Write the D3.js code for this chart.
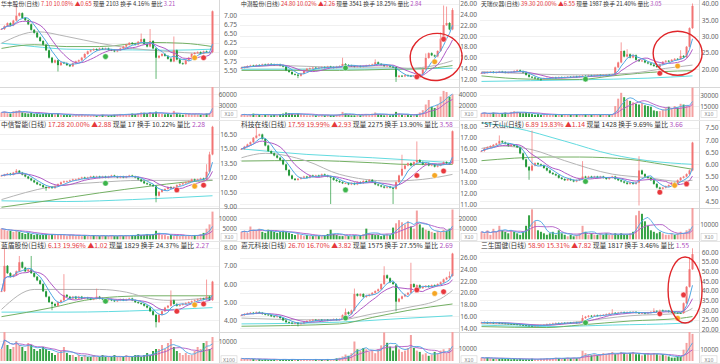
<!DOCTYPE html>
<html>
<head>
<meta charset="utf-8">
<script src="https://cdn.jsdelivr.net/npm/d3@7"></script>
<style>
body { margin: 0; background: #fff; }
svg { display: block; font-family: "Noto Sans CJK SC", "Noto Sans", sans-serif; }
</style>
</head>
<body>
<svg id="chart" width="720" height="364"></svg>
<script>
// Nine daily K-line charts, 72 sessions each.
// close prices (open = previous close), sparse highs/lows for long wicks
var close1 = [6.62,6.70,6.78,6.72,6.85,6.98,7.05,6.92,6.86,6.75,6.60,6.52,6.40,6.30,6.20,6.05,5.85,5.72,5.78,5.65,5.72,5.70,5.65,5.62,5.70,5.75,5.78,5.85,5.95,6.02,6.05,6.08,6.06,6.10,6.08,6.10,6.06,6.05,6.02,6.05,6.10,6.15,6.20,6.25,6.22,6.20,6.28,6.35,6.22,6.15,6.30,6.10,5.85,5.90,5.95,5.90,5.82,5.75,6.05,5.80,5.70,5.68,5.78,5.85,5.95,5.98,6.00,5.96,6.02,6.00,6.00,7.10];
var close2 = [14.1,14.2,14.4,14.5,14.4,14.6,14.5,14.7,14.6,14.8,14.7,14.6,14.7,14.5,14.3,13.6,13.3,12.9,12.8,12.6,13.0,13.6,13.9,14.0,14.1,14.0,14.1,14.2,14.1,14.3,14.2,14.1,14.3,14.4,14.8,14.6,14.5,14.4,14.3,14.4,14.3,14.4,14.5,14.6,14.7,15.1,14.8,14.6,14.4,14.5,14.3,14.2,12.4,12.6,12.5,12.7,12.6,12.5,12.6,12.3,12.9,13.8,15.9,16.8,16.4,16.2,17.2,19.5,22.0,22.4,21.2,24.8];
var close3 = [18.8,18.9,19.0,19.1,18.9,19.0,19.2,19.1,18.9,19.0,19.1,19.4,19.6,19.3,18.9,18.2,17.6,17.4,17.1,17.0,16.9,17.1,17.2,17.3,17.4,17.3,17.5,17.4,17.5,17.6,17.5,17.7,17.6,17.8,17.9,17.8,18.0,17.9,18.0,18.1,18.0,18.1,18.2,18.1,18.3,20.5,22.0,25.5,23.8,24.5,23.5,24.2,22.8,22.4,22.6,22.0,21.7,21.3,20.9,20.6,21.4,22.2,22.5,22.3,22.8,23.1,23.0,24.0,23.6,26.8,32.5,39.3];
var close4 = [12.2,12.3,12.4,12.3,12.5,12.7,12.5,12.3,12.1,11.9,11.7,11.5,11.3,11.2,11.0,10.9,11.0,10.9,11.1,11.3,11.5,11.6,11.6,11.7,11.8,11.8,11.9,12.0,11.9,12.0,12.1,12.0,12.1,12.0,12.1,12.0,12.1,12.2,12.1,12.0,12.1,12.0,12.1,12.2,12.1,12.0,11.8,11.6,11.4,11.3,11.2,11.1,10.1,10.5,10.7,10.8,11.0,10.9,11.0,11.2,11.3,11.4,11.5,11.6,11.8,11.7,11.8,11.9,11.8,12.6,14.4,17.28];
var close5 = [16.0,16.2,16.4,16.6,17.0,17.2,17.3,16.9,16.3,15.8,15.6,15.4,15.2,15.0,14.6,14.1,13.6,13.3,13.2,13.3,13.4,13.5,13.4,13.6,13.5,13.6,13.5,13.7,13.6,13.5,13.4,13.2,13.1,13.0,12.9,12.9,12.8,12.9,12.8,13.0,12.9,13.1,13.0,13.2,13.0,12.8,12.7,12.6,12.5,12.6,12.5,12.4,13.0,13.6,14.2,14.5,14.7,14.5,14.8,15.0,14.8,14.6,14.7,14.5,14.6,14.4,14.5,14.6,14.8,14.7,14.66,17.59];
var close6 = [6.55,6.65,6.70,6.75,6.80,6.85,6.95,6.90,6.85,6.75,6.80,6.75,6.70,6.45,6.20,5.90,5.75,5.95,6.05,6.00,5.95,5.85,5.75,5.65,5.60,5.55,5.45,5.40,5.35,5.40,5.35,5.30,5.35,5.40,5.50,5.45,5.50,5.45,5.50,5.45,5.50,5.45,5.40,5.45,5.50,5.40,5.35,5.30,5.25,5.20,5.25,5.20,5.25,5.75,5.60,5.50,5.45,5.35,5.20,5.05,5.00,5.05,5.10,5.15,5.25,5.20,5.35,5.45,5.50,5.60,5.75,6.89];
var close7 = [5.6,7.0,6.6,6.4,6.5,6.7,7.2,6.9,6.7,6.8,6.6,6.4,6.2,6.0,5.6,5.3,5.0,4.9,4.8,5.0,5.1,5.4,5.3,5.2,5.3,5.2,5.3,5.2,5.25,5.2,5.15,5.2,5.3,5.2,5.15,5.1,5.15,5.1,5.05,5.1,5.15,5.1,5.15,5.2,5.1,5.0,4.95,4.9,4.8,4.7,4.5,4.3,3.9,4.3,4.5,4.7,4.8,5.1,4.9,4.8,4.85,4.9,4.95,5.0,5.05,5.1,5.15,5.2,5.15,5.3,5.11,6.13];
var close8 = [16.2,16.4,16.5,16.6,16.5,16.7,16.6,16.4,16.3,16.2,16.0,15.9,16.0,15.7,15.3,15.0,14.9,14.8,14.9,14.7,14.8,15.0,15.2,15.3,15.4,15.3,15.4,15.3,15.4,15.3,15.4,15.5,15.4,15.5,16.2,16.7,16.4,17.0,19.8,19.5,19.8,19.3,19.5,19.7,20.0,20.3,20.6,21.5,23.0,22.5,21.8,21.5,18.5,19.0,19.4,19.7,20.0,21.5,21.0,21.3,20.8,21.0,21.2,21.0,21.3,21.2,21.5,21.8,22.3,22.6,22.88,26.70];
var close9 = [23.5,23.6,23.4,23.5,23.3,23.4,23.2,23.1,23.0,22.9,22.8,22.6,22.5,22.3,22.2,22.0,21.9,21.8,21.9,22.0,22.1,22.3,22.6,22.8,23.0,23.2,23.1,23.3,23.2,23.4,23.3,23.5,23.4,23.6,25.8,26.5,27.0,26.8,27.2,27.0,27.3,27.5,27.8,28.2,28.5,28.3,28.6,28.8,28.5,28.9,28.7,29.0,28.6,28.3,28.5,28.2,28.6,29.0,29.5,29.2,29.8,29.4,29.6,29.0,28.8,28.6,28.5,28.4,33.5,42.0,51.08,58.90];

var high1 = [[5,7.28],[47,6.48],[50,6.60],[58,6.40]];
var low1 = [[19,5.50],[52,5.30]];
var high2 = [[34,15.8],[45,15.5],[62,16.6],[67,20.5],[68,25.5],[69,25.3],[71,25.0]];
var low2 = [[19,12.3],[52,11.6],[59,12.1]];
var high3 = [[47,27.9],[49,25.8],[67,25.5],[71,39.8]];
var low3 = [[20,16.6]];
var high4 = [[5,12.8],[69,13.3],[70,14.6],[71,17.3]];
var low4 = [[15,10.7],[52,9.5]];
var high5 = [[5,18.0],[54,15.4],[59,16.6]];
var low5 = [[30,11.1],[51,11.1]];
var high6 = [[6,7.15],[17,7.35],[34,6.10],[53,6.30]];
var low6 = [[16,5.40],[53,4.35],[60,4.85]];
var high7 = [[1,7.9],[6,7.5],[10,7.5],[21,6.5],[32,5.7],[57,5.6],[69,6.2]];
var low7 = [[17,4.6],[52,3.65]];
var high8 = [[35,17.2],[38,20.6],[48,24.4],[57,25.0],[70,23.5]];
var low8 = [[19,14.4],[52,17.0]];
var high9 = [[34,27.0],[44,30.0],[58,30.5],[70,57.0],[71,61.5]];
var low9 = [];

// volume (shares)
var vol1 = [12000,14000,10000,9000,15000,16000,18000,12000,10000,9000,11000,8000,9000,7000,8000,10000,9000,8000,7000,9000,6000,5000,6000,5000,4000,5000,6000,7000,5000,5000,4000,5000,4000,5000,6000,5000,4000,5000,6000,7000,8000,6000,7000,8000,9000,8000,10000,12000,11000,9000,13000,10000,14000,9000,8000,7000,8000,6000,16000,10000,7000,6000,8000,9000,7000,8000,7000,6000,8000,9000,10000,80000];
var vol2 = [4000,5000,3000,4000,6000,5000,4000,3000,4000,5000,3000,4000,3000,5000,6000,8000,7000,5000,4000,6000,5000,4000,3000,3000,4000,3000,3000,4000,3000,4000,3000,3000,4000,5000,9000,6000,4000,3000,3000,4000,3000,4000,5000,4000,6000,8000,5000,4000,3000,4000,3000,4000,9000,6000,4000,3000,4000,3000,3000,5000,8000,12000,22000,30000,18000,16000,22000,36000,46000,44000,36000,40000];
var vol3 = [5000,6000,4000,5000,6000,5000,4000,5000,6000,5000,7000,8000,7000,6000,5000,6000,5000,4000,3000,4000,3000,3000,4000,3000,3000,4000,3000,3000,4000,3000,3000,3000,4000,3000,3000,4000,3000,3000,4000,3000,3000,4000,3000,3000,4000,15000,25000,33000,27000,24000,22000,20000,18000,17000,19000,16000,15000,14000,9000,8000,8000,10000,12000,14000,12000,15000,13000,18000,17000,16000,15000,40000];
var vol4 = [5000,4500,4000,4000,3500,4000,3500,3000,2500,3000,2500,2000,2500,2000,2000,2500,2000,2500,2000,2000,2500,2000,1500,2000,2000,1500,2000,1500,2000,1500,1500,2000,1500,1500,2000,1500,1500,2000,1500,1500,2000,1500,2000,1500,2000,2000,2500,2000,2000,2500,2000,2500,4000,3000,2000,2000,1500,2000,1500,2000,1500,2000,1500,2000,1500,2000,2000,2500,3000,5000,7000,13000];
var vol5 = [7000,8000,6000,12000,9000,8000,10000,7000,6000,9000,8000,7000,6000,7000,8000,7000,6000,5000,4000,5000,4000,3000,4000,3000,3000,4000,3000,3000,4000,5000,9000,5000,4000,3000,3000,4000,3000,3000,4000,3000,4000,5000,10000,6000,5000,4000,4000,3000,4000,5000,4000,11000,15000,18000,16000,14000,17000,12000,10000,27000,14000,11000,9000,8000,7000,6000,8000,7000,9000,8000,10000,28000];
var vol6 = [5000,4000,6000,3000,7000,5000,9000,6000,5000,4000,6000,5000,4000,3000,5000,9000,16000,20000,12000,6000,5000,4000,3000,4000,5000,3000,6000,4000,3000,2000,3000,2000,3000,4000,9000,5000,3000,4000,3000,3000,4000,3000,4000,3000,3000,4000,3000,4000,3000,3000,4000,5000,16000,19000,17000,12000,9000,6000,5000,4000,5000,4000,3000,3000,4000,3000,4000,5000,4000,6000,7000,21000];
var vol7 = [6000,15000,8000,6000,7000,10000,8000,7000,5000,9000,8000,6000,5000,6000,7000,6000,5000,4000,3000,4000,5000,7000,4000,3000,3000,2000,3000,2000,3000,2000,2000,3000,2000,2000,3000,2000,2000,2000,3000,2000,2000,2000,3000,2000,2000,3000,3000,2000,3000,4000,3000,5000,6000,6000,8000,6000,9000,11000,7000,5000,4000,3000,4000,3000,3000,5000,7000,6000,9000,10000,6000,12000];
var vol8 = [2000,1500,2000,1500,1500,1000,1500,1000,1500,1000,1000,1500,1000,1000,1500,1000,1000,1500,1000,1000,1000,1500,1000,1000,1000,1500,1000,1000,1000,1500,1000,1500,2000,2500,3500,5000,4000,6000,15000,9000,8000,10000,9000,7000,8000,6000,9000,12000,22000,14000,11000,8000,12000,9000,7000,8000,10000,20000,10000,8000,7000,5000,6000,4000,5000,7000,6000,8000,9000,6000,10000,24000];
var vol9 = [3000,2500,3000,2500,2000,2500,2000,2500,2000,2000,1500,2000,1500,2000,1500,1500,1500,2000,1500,1500,2000,2000,2500,2000,2500,3000,2500,2000,2500,3000,2500,3000,2500,3000,9000,7000,6000,5000,6000,5000,6000,7000,6000,7000,8000,6000,7000,8000,7000,6000,7000,8000,6000,6000,5000,6000,7000,6000,7000,6000,5000,6000,5000,4000,3000,3000,4000,4000,10000,16000,26000,24000];

// long moving averages (gray / green / cyan) read as [session, price]
var slow1 = [[0,6.24],[12,6.55],[22,6.42],[33,6.24],[44,6.10],[56,6.02],[67,5.97],[71,5.98]];
var mid1 = [[0,6.10],[11,6.20],[22,6.15],[33,6.15],[50,6.26],[61,6.24],[71,6.15]];
var year1 = [[0,6.24],[11,6.15],[22,6.08],[44,6.06],[56,6.05],[71,6.08]];
var slow2 = [[0,14.2],[11,14.5],[33,14.2],[50,14.2],[56,14.0],[65,14.5],[71,15.4]];
var mid2 = [[0,13.6],[33,13.6],[50,13.8],[61,13.9],[71,14.5]];
var year2 = [[0,13.8],[50,13.85],[71,14.0]];
var slow3 = [[0,19.2],[33,18.2],[50,18.7],[62,20.2],[71,21.2]];
var mid3 = [[0,17.9],[16,16.9],[33,16.8],[44,17.9],[61,19.2],[71,19.5]];
var year3 = [[0,16.2],[33,16.7],[56,17.2],[71,17.9]];
var slow4 = [[0,9.7],[16,11.0],[33,11.5],[47,11.7],[56,11.7],[71,11.75]];
var mid4 = [[0,8.9],[16,9.6],[33,10.4],[50,11.1],[61,11.5],[71,11.7]];
var year4 = [[0,9.57],[22,9.5],[44,9.7],[71,10.1]];
var slow5 = [[0,15.2],[8,15.6],[22,14.9],[33,13.7],[50,13.1],[61,13.25],[71,13.7]];
var mid5 = [[0,14.9],[22,14.95],[44,14.75],[56,14.6],[71,14.6]];
var year5 = [[0,16.0],[22,15.5],[44,15.2],[71,14.75]];
var slow6 = [[0,6.65],[6,6.75],[17,6.6],[28,6.15],[44,5.6],[56,5.45],[67,5.3],[71,5.35]];
var mid6 = [[0,6.15],[22,6.3],[33,6.3],[50,6.2],[61,6.0],[71,5.8]];
var year6 = [[0,7.7],[11,7.5],[28,6.95],[44,6.4],[56,6.15],[71,6.0]];
var slow7 = [[0,4.6],[11,5.7],[33,5.7],[42,5.55],[50,5.2],[56,5.1],[71,5.25]];
var mid7 = [[0,4.2],[17,4.7],[28,5.1],[39,5.3],[50,5.35],[71,5.35]];
var year7 = [[0,4.45],[22,4.45],[50,4.55],[71,4.7]];
var slow8 = [[0,15.7],[22,15.4],[33,15.4],[44,16.4],[56,17.5],[67,19.0],[71,20.4]];
var mid8 = [[0,14.3],[33,14.7],[44,15.8],[56,17.0],[71,18.1]];
var year8 = [[0,14.7],[33,15.0],[50,15.5],[71,16.1]];
var slow9 = [[0,23.1],[22,22.2],[33,24.0],[50,27.0],[67,28.3],[71,30.9]];
var mid9 = [[0,21.4],[22,20.9],[33,22.2],[50,24.3],[67,25.7],[71,26.6]];
var year9 = [[0,22.2],[22,21.4],[44,22.2],[67,23.1],[71,24.0]];

// signal markers [session, price, kind]
var signals1 = [[35,5.88,"g"],[65,5.85,"o"],[68,5.85,"r"]];
var signals2 = [[35,14.05,"g"],[59,12.4,"r"],[65,15.2,"o"],[68,19.4,"r"]];
var signals3 = [[35,16.9,"g"],[60,18.7,"r"],[66,20.9,"o"]];
var signals4 = [[35,11.4,"g"],[59,10.7,"r"],[65,11.1,"o"],[68,11.2,"r"]];
var signals5 = [[35,12.3,"g"],[59,13.6,"r"],[65,13.6,"o"],[68,14.0,"r"]];
var signals6 = [[35,5.3,"g"],[60,4.86,"r"],[65,5.14,"o"],[69,5.2,"r"]];
var signals7 = [[35,5.05,"g"],[59,4.5,"r"],[65,4.85,"o"],[68,4.9,"r"]];
var signals8 = [[35,15.7,"g"],[59,20.5,"r"],[65,19.9,"o"],[68,20.2,"r"]];
var signals9 = [[35,23.4,"g"],[60,28.0,"r"],[66,25.7,"o"],[68,37.8,"r"]];

// tick labels
var ticks1 = [7.00,6.75,6.50,6.25,6.00,5.75,5.50];
var ticks2 = [26,24,22,20,18,16,14,12];
var ticks3 = [40,35,30,25,20];
var ticks4 = [16.5,15,13.5,12,10.5,9];
var ticks5 = [18,17,16,15,14,13,12,11];
var ticks6 = [7.5,7,6.5,6,5.5,5,4.5];
var ticks7 = [8,7,6,5,4];
var ticks8 = [26,24,22,20,18,16,14];
var ticks9 = [60,55,50,45,40,35,30,25,20];
var volTicks1 = [60000,30000];
var volTicks2 = [40000,20000];
var volTicks3 = [30000,15000];
var volTicks4 = [10000,5000];
var volTicks5 = [20000,10000];
var volTicks6 = [10000];
var volTicks7 = [10000];
var volTicks8 = [10000];
var volTicks9 = [10000];

// header lines
var names = ["华丰股份","中潜股份","天瑞仪器","中信智能","科技在线","*ST天山","蓝盾股份","嘉元科技","三生国健"];
var quotes = [
  ["7.10","10.08%","▲0.65","2103","4.16%","3.21"],
  ["24.80","10.02%","▲2.26","3541","18.25%","2.84"],
  ["39.30","20.00%","▲6.55","1987","21.40%","3.05"],
  ["17.28","20.00%","▲2.88","17","10.22%","2.28"],
  ["17.59","19.99%","▲2.93","2275","13.90%","3.58"],
  ["6.89","19.83%","▲1.14","1428","9.69%","3.66"],
  ["6.13","19.96%","▲1.02","1829","24.37%","2.27"],
  ["26.70","16.70%","▲3.82","1575","27.55%","2.69"],
  ["58.90","15.31%","▲7.82","1817","3.46%","1.55"]
];
var volUnits = ["X10","X10","X10","X10","X10","X10","X100","X10","X10"];

var rows = [
  {top: 0, sep: 87, base: 117, bottom: 121, title: 5.6, fs: 5.8, unit: 114},
  {top: 121, sep: 208, base: 239.3, bottom: 242, title: 126.6, fs: 6.8, unit: 237},
  {top: 242, sep: 332, base: 361, bottom: 364, title: 247.6, fs: 6.8, unit: 359.3}
];

var panels = [
  {close: close1, high: high1, low: low1, vol: vol1, slow: slow1, mid: mid1, year: year1, sig: signals1, ticks: ticks1, vticks: volTicks1, yA: [7, 15], yB: [5.5, 70.7], vTop: [60000, 94]},
  {close: close2, high: high2, low: low2, vol: vol2, slow: slow2, mid: mid2, year: year2, sig: signals2, ticks: ticks2, vticks: volTicks2, yA: [26, 3.6], yB: [12, 79], vTop: [40000, 94.3], ring: [65.5, 16.1, 26, 23.5, -8]},
  {close: close3, high: high3, low: low3, vol: vol3, slow: slow3, mid: mid3, year: year3, sig: signals3, ticks: ticks3, vticks: volTicks3, yA: [40, 3.6], yB: [20, 69], vTop: [30000, 95], ring: [66, 24.8, 24.5, 22, 0]},
  {close: close4, high: high4, low: low4, vol: vol4, slow: slow4, mid: mid4, year: year4, sig: signals4, ticks: ticks4, vticks: volTicks4, yA: [16.5, 134.3], yB: [9, 206.3], vTop: [10000, 218]},
  {close: close5, high: high5, low: low5, vol: vol5, slow: slow5, mid: mid5, year: year5, sig: signals5, ticks: ticks5, vticks: volTicks5, yA: [18, 126.7], yB: [11, 204.3], vTop: [20000, 218]},
  {close: close6, high: high6, low: low6, vol: vol6, slow: slow6, mid: mid6, year: year6, sig: signals6, ticks: ticks6, vticks: volTicks6, yA: [7.5, 127.7], yB: [4.5, 201], vTop: [10000, 224.3]},
  {close: close7, high: high7, low: low7, vol: vol7, slow: slow7, mid: mid7, year: year7, sig: signals7, ticks: ticks7, vticks: volTicks7, yA: [8, 247.7], yB: [4, 320.3], vTop: [10000, 341]},
  {close: close8, high: high8, low: low8, vol: vol8, slow: slow8, mid: mid8, year: year8, sig: signals8, ticks: ticks8, vticks: volTicks8, yA: [26, 257.7], yB: [14, 328], vTop: [10000, 348]},
  {close: close9, high: high9, low: low9, vol: vol9, slow: slow9, mid: mid9, year: year9, sig: signals9, ticks: ticks9, vticks: volTicks9, yA: [60, 252], yB: [20, 329.3], vTop: [10000, 349.7], ring: [68.5, 40.3, 17, 33, 0]}
];

var upColor = "#f27474", downColor = "#23993a";
var upVol = "#f4a0a0", downVol = "#35a345";
var signalColor = {r: "#e8383d", o: "#f5a623", g: "#3cb44b"};

var svg = d3.select("#chart");
var defs = svg.append("defs");

// simple moving average with a shorter window at the start
function movingAvg(arr, n) {
  return arr.map(function(d, i) {
    return d3.mean(arr.slice(Math.max(0, i - n + 1), i + 1));
  });
}

panels.forEach(function(p, k) {
  var col = k % 3, row = rows[Math.floor(k / 3)];
  var x0 = col * 240;
  var plotRight = x0 + 219;
  var n = p.close.length;

  var xScale = d3.scaleLinear().domain([0, n - 1]).range([x0 + 1.5, x0 + 212.5]);
  var yScale = d3.scaleLinear().domain([p.yB[0], p.yA[0]]).range([p.yB[1], p.yA[1]]);
  var vScale = d3.scaleLinear().domain([0, p.vTop[0]]).range([row.base, p.vTop[1]]);

  var g = svg.append("g");

  // clip paths for the two panes
  defs.append("clipPath").attr("id", "pc" + k).append("rect")
    .attr("x", x0).attr("y", row.top).attr("width", 219).attr("height", row.sep - row.top);
  defs.append("clipPath").attr("id", "vc" + k).append("rect")
    .attr("x", x0).attr("y", row.sep).attr("width", 219).attr("height", row.bottom - row.sep);

  // grid
  g.selectAll(".grid").data(p.ticks).enter().append("line")
    .attr("x1", x0).attr("x2", plotRight)
    .attr("y1", function(d) { return Math.round(yScale(d)) + 0.5; })
    .attr("y2", function(d) { return Math.round(yScale(d)) + 0.5; })
    .attr("stroke", "#f0f0f0");
  g.selectAll(".vgrid").data(p.vticks).enter().append("line")
    .attr("x1", x0).attr("x2", plotRight)
    .attr("y1", function(d) { return Math.round(vScale(d)) + 0.5; })
    .attr("y2", function(d) { return Math.round(vScale(d)) + 0.5; })
    .attr("stroke", "#f0f0f0");

  // frame lines
  g.append("line").attr("x1", plotRight + 0.5).attr("x2", plotRight + 0.5)
    .attr("y1", row.top).attr("y2", row.bottom).attr("stroke", "#d8d8d8");
  g.append("line").attr("x1", x0).attr("x2", x0 + 240)
    .attr("y1", row.sep + 0.5).attr("y2", row.sep + 0.5).attr("stroke", "#d8d8d8");
  g.append("line").attr("x1", x0).attr("x2", x0 + 240)
    .attr("y1", row.bottom - 0.5).attr("y2", row.bottom - 0.5).attr("stroke", "#e6e6e6");

  // candles
  var hiMap = new Map(p.high), loMap = new Map(p.low);
  var candles = p.close.map(function(c, i) {
    var o = i === 0 ? c : p.close[i - 1];
    return {
      i: i, o: o, c: c, up: c >= o,
      h: Math.max(o, c, hiMap.has(i) ? hiMap.get(i) : -Infinity),
      l: Math.min(o, c, loMap.has(i) ? loMap.get(i) : Infinity),
      v: p.vol[i]
    };
  });

  var price = g.append("g").attr("clip-path", "url(#pc" + k + ")");

  var line = d3.line().x(function(d) { return xScale(d[0]); }).y(function(d) { return yScale(d[1]); });
  var smooth = d3.line().curve(d3.curveMonotoneX)
    .x(function(d) { return xScale(d[0]); }).y(function(d) { return yScale(d[1]); });

  price.append("path").attr("d", smooth(p.year)).attr("fill", "none").attr("stroke", "#62dbe0").attr("stroke-width", 1);
  price.append("path").attr("d", smooth(p.mid)).attr("fill", "none").attr("stroke", "#74b064").attr("stroke-width", 1);
  price.append("path").attr("d", smooth(p.slow)).attr("fill", "none").attr("stroke", "#b5b5b5").attr("stroke-width", 1);

  price.selectAll(".wick").data(candles).enter().append("line")
    .attr("x1", function(d) { return xScale(d.i); }).attr("x2", function(d) { return xScale(d.i); })
    .attr("y1", function(d) { return yScale(d.h) - 0.8; })
    .attr("y2", function(d) { return yScale(d.l) + 0.8; })
    .attr("stroke", function(d) { return d.up ? upColor : downColor; })
    .attr("stroke-width", 0.7);
  price.selectAll(".body").data(candles).enter().append("rect")
    .attr("x", function(d) { return xScale(d.i) - 1; })
    .attr("width", 2)
    .attr("y", function(d) { return yScale(Math.max(d.o, d.c)); })
    .attr("height", function(d) { return Math.max(0.8, Math.abs(yScale(d.o) - yScale(d.c))); })
    .attr("fill", function(d) { return d.up ? upColor : downColor; });

  var ma5 = movingAvg(p.close, 5).map(function(v, i) { return [i, v]; });
  var ma10 = movingAvg(p.close, 10).map(function(v, i) { return [i, v]; });
  price.append("path").attr("d", line(ma10)).attr("fill", "none").attr("stroke", "#b05ac6").attr("stroke-width", 1);
  price.append("path").attr("d", line(ma5)).attr("fill", "none").attr("stroke", "#4fa6e3").attr("stroke-width", 1);

  price.selectAll(".sig").data(p.sig).enter().append("circle")
    .attr("cx", function(d) { return xScale(d[0]); })
    .attr("cy", function(d) { return yScale(d[1]); })
    .attr("r", 2.8)
    .attr("fill", function(d) { return signalColor[d[2]]; })
    .attr("stroke", "#fff").attr("stroke-width", 0.5);

  // volume pane
  var volG = g.append("g").attr("clip-path", "url(#vc" + k + ")");
  volG.selectAll(".vbar").data(candles).enter().append("rect")
    .attr("x", function(d) { return xScale(d.i) - 1; })
    .attr("width", 2)
    .attr("y", function(d) { return vScale(d.v); })
    .attr("height", function(d) { return row.base - vScale(d.v); })
    .attr("fill", function(d) { return d.up ? upVol : downVol; });
  var vline = d3.line().x(function(d, i) { return xScale(i); }).y(function(d) { return vScale(d); });
  volG.append("path").attr("d", vline(movingAvg(p.vol, 10))).attr("fill", "none").attr("stroke", "#b05ac6").attr("stroke-width", 0.9);
  volG.append("path").attr("d", vline(movingAvg(p.vol, 5))).attr("fill", "none").attr("stroke", "#4fa6e3").attr("stroke-width", 0.9);

  // axes labels
  var labelX = col === 2 ? x0 + 238.5 : x0 + 237;
  var yAxis = d3.axisLeft(yScale).tickValues(p.ticks).tickSize(0).tickPadding(0)
    .tickFormat(d3.format(".2f"));
  var ya = g.append("g").attr("transform", "translate(" + labelX + ",0)").call(yAxis);
  ya.select(".domain").remove();
  ya.selectAll("text").attr("font-size", 6.6).attr("fill", "#666").attr("font-family", "Noto Sans, sans-serif");

  var vAxis = d3.axisLeft(vScale).tickValues(p.vticks).tickSize(0).tickPadding(0).tickFormat(d3.format("d"));
  var va = g.append("g").attr("transform", "translate(" + labelX + ",0)").call(vAxis);
  va.select(".domain").remove();
  va.selectAll("text").attr("font-size", 6.4).attr("fill", "#666").attr("font-family", "Noto Sans, sans-serif");

  g.append("rect").attr("x", plotRight + 2).attr("y", row.unit - 3.5).attr("width", 16).attr("height", 7)
    .attr("fill", "#fff").attr("stroke", "#cfcfcf").attr("stroke-width", 0.6);
  g.append("text").attr("x", plotRight + 10).attr("y", row.unit + 2.2).attr("text-anchor", "middle")
    .attr("font-size", 5.4).attr("fill", "#888").text(volUnits[k]);

  // red ring annotation
  if (p.ring) {
    var cx = xScale(p.ring[0]), cy = yScale(p.ring[1]);
    g.append("ellipse").attr("cx", cx).attr("cy", cy)
      .attr("rx", p.ring[2]).attr("ry", p.ring[3])
      .attr("transform", "rotate(" + p.ring[4] + "," + cx + "," + cy + ")")
      .attr("fill", "none").attr("stroke", "#e0262a").attr("stroke-width", 1.4);
  }

  // header
  var q = quotes[k];
  var t = g.append("text").attr("x", x0 + 1).attr("y", row.title).attr("font-size", row.fs);
  var parts = [
    [names[k] + "(日线) ", "#333"], [q[0] + " ", "#e5383b"], [q[1] + "  ", "#e5383b"],
    [q[2] + " ", "#e5383b"], ["现量 ", "#333"], [q[3] + " ", "#333"],
    ["换手 ", "#333"], [q[4] + " ", "#333"], ["量比 ", "#333"], [q[5], "#b04fc0"]
  ];
  t.selectAll("tspan").data(parts).enter().append("tspan")
    .attr("fill", function(d) { return d[1]; })
    .text(function(d) { return d[0]; });
});
</script>
</body>
</html>
